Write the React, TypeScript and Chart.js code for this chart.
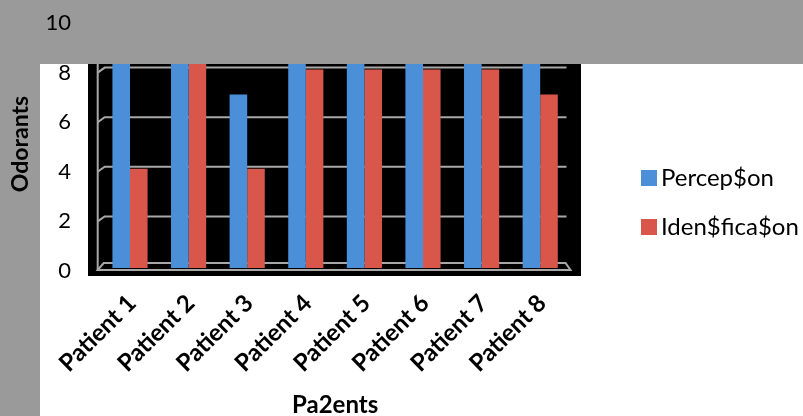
import { useEffect, useRef } from "react";
import { Chart, registerables } from "chart.js";

Chart.register(...registerables);

const categories = ["Patient 1", "Patient 2", "Patient 3", "Patient 4", "Patient 5", "Patient 6", "Patient 7", "Patient 8"];
const perception = [10, 10, 7, 10, 10, 10, 10, 10];
const identification = [4, 9, 4, 8, 8, 8, 8, 7];
const yTicks = [0, 2, 4, 6, 8, 10];
const seriesNames = ["Percep$on", "Iden$fica$on"];
const xTitle = "Pa2ents";
const yTitle = "Odorants";

const W = 803;
const H = 430;
const BLUE = "#4a8fd8";
const RED = "#d9564b";
const GRAY = "#9a9a9a";
const GRID = "#a8a8a8";
const FONT = "Lato";

const decor = {
  id: "decor",
  beforeDraw(chart: any) {
    const { ctx, chartArea: a } = chart;
    ctx.save();
    ctx.fillStyle = "#ffffff";
    ctx.fillRect(0, 0, W, H);
    ctx.fillStyle = GRAY;
    ctx.fillRect(0, 0, 40, H);
    ctx.fillStyle = "#000000";
    const bl = a.left - 12.7;
    const br = a.right + 11.5;
    ctx.fillRect(bl, 0, br - bl, a.bottom + 8);
    ctx.restore();
  },
  beforeDatasetsDraw(chart: any) {
    const { ctx, chartArea: a } = chart;
    const ys = chart.scales.y;
    const L = a.left;
    const R = a.right;
    const y0 = ys.getPixelForValue(0);
    ctx.save();
    ctx.strokeStyle = GRID;
    ctx.lineWidth = 2;
    ys.ticks.forEach((t: any) => {
      if (t.value === 0) return;
      const py = ys.getPixelForValue(t.value) - 2;
      ctx.beginPath();
      ctx.moveTo(L - 3, py + 5);
      ctx.lineTo(L + 4, py);
      ctx.lineTo(R - 3, py);
      ctx.stroke();
    });
    ctx.beginPath();
    ctx.moveTo(L - 3, a.top);
    ctx.lineTo(L - 3, y0 + 2);
    ctx.stroke();
    ctx.beginPath();
    ctx.moveTo(L - 3, y0 + 2);
    ctx.lineTo(R + 1, y0 + 2);
    ctx.lineTo(R - 4, y0 - 5);
    ctx.lineTo(L + 3, y0 - 5);
    ctx.closePath();
    ctx.stroke();
    ctx.restore();
  },
  afterDatasetsDraw(chart: any) {
    const { ctx, chartArea: a } = chart;
    ctx.save();
    // legend
    const lx = a.right + 71.5;
    const rows = [170, 219];
    chart.data.datasets.forEach((ds: any, i: number) => {
      ctx.fillStyle = ds.backgroundColor;
      ctx.fillRect(lx, rows[i], 16, 16);
      ctx.fillStyle = "#000";
      ctx.font = `24px ${FONT}`;
      ctx.textBaseline = "middle";
      ctx.textAlign = "left";
      ctx.fillText(ds.label, lx + 20, rows[i] + 8.5);
    });
    // top gray band
    ctx.fillStyle = GRAY;
    ctx.fillRect(0, 0, W, 64);
    ctx.restore();
  },
};

export default function App() {
  const ref = useRef<HTMLCanvasElement>(null);
  useEffect(() => {
    const chart = new Chart(ref.current as HTMLCanvasElement, {
      type: "bar",
      data: {
        labels: categories,
        datasets: [
          { label: seriesNames[0], data: perception, backgroundColor: BLUE, categoryPercentage: 0.6, barPercentage: 1 },
          { label: seriesNames[1], data: identification, backgroundColor: RED, categoryPercentage: 0.6, barPercentage: 1 },
        ],
      },
      options: {
        responsive: false,
        animation: false,
        devicePixelRatio: 1,
        layout: { padding: { top: 20, right: 233.5, left: 0, bottom: 0 } },
        plugins: { legend: { display: false }, tooltip: { enabled: false } },
        scales: {
          x: {
            grid: { display: false, drawTicks: false },
            border: { display: false },
            ticks: {
              color: "#000",
              font: { family: FONT, size: 24, weight: "bold" },
              minRotation: 45,
              maxRotation: 45,
              padding: 21,
              labelOffset: 2,
              autoSkip: false,
            },
            title: {
              display: true,
              text: xTitle,
              color: "#000",
              font: { family: FONT, size: 24, weight: "bold" },
              padding: { top: 0, bottom: 10 },
            },
            afterFit(s: any) {
              s.height = H - 268;
              s.paddingLeft = 0;
              s.paddingRight = 0;
            },
          },
          y: {
            min: 0,
            max: 10,
            afterBuildTicks(s: any) {
              s.ticks = yTicks.map((v) => ({ value: v }));
            },
            ticks: {
              color: "#000",
              font: { family: FONT, size: 22 },
              padding: 29.7,
              labelOffset: 3,
              z: 1,
            },
            grid: { display: false, drawTicks: false },
            border: { display: false },
            title: {
              display: true,
              text: yTitle,
              color: "#000",
              font: { family: FONT, size: 23, weight: "bold" },
              padding: { top: 7, bottom: 0 },
            },
            afterFit(s: any) {
              s.width = 100.7;
              s.paddingTop = 0;
              s.paddingBottom = 0;
            },
          },
        },
      } as any,
      plugins: [decor],
    });
    return () => chart.destroy();
  }, []);
  return (
    <div style={{ position: "fixed", left: 0, top: 0, width: W, height: 416, overflow: "hidden", background: "#fff" }}>
      <canvas ref={ref} width={W} height={H} style={{ display: "block", width: W, height: H }} />
    </div>
  );
}
